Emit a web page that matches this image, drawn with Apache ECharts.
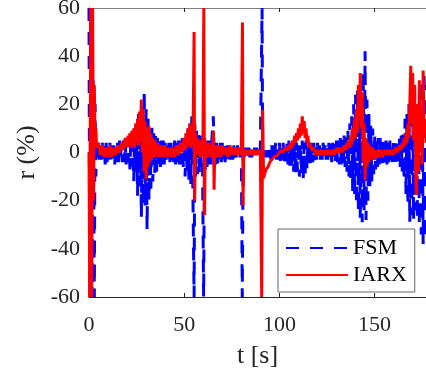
<!DOCTYPE html>
<html>
<head>
<meta charset="utf-8">
<script src="https://cdn.jsdelivr.net/npm/echarts@6/dist/echarts.min.js"></script>
<style>
html,body{margin:0;padding:0;background:#fff;}
#chart{width:426px;height:374px;}
</style>
</head>
<body>
<div id="chart"></div>
<script>
// FSM series: [t (s), r (%)]
var fsmData = [
[0,60],[0.4,-60],[1,60],[1.6,-60],[2.2,30],[2.8,-60],[3.2,20],[3.6,-10],
[4,6],[4.5,-4],[5,5],[5.5,-5],[6,4],[6.5,-3],[7,4],[7.5,-4],[8,3],[8.5,-5],
[9,4],[9.5,-4],[10,3],[10.5,-3],[11,4],[11.5,-4],[12,5],[12.5,-3],[13,3],[13.5,-5],
[14,3],[14.5,-4],[15,4],[15.5,-4],[16,5],[16.5,-3],[17,4],[17.5,-4],[18,5],[18.5,-4],
[19,5],[19.5,-5],[20,6],[20.5,-4],[21,6],[21.5,-7],[22,7],[22.5,-6],[23,5],[23.5,-12],
[24,10],[24.5,-8],[25,12],[25.5,-18],[26,16],[26.5,-14],[27,12],[27.5,-27],[28,20],[28.5,-22],
[29,26],[29.5,-22],[30,18],[30.5,-32],[31,14],[31.5,-20],[32,10],[32.5,-15],[33,12],[33.5,-12],
[34,8],[34.5,-9],[35,7],[35.5,-8],[36,6],[36.5,-6],[37,6],[37.5,-6],[38,5],[38.5,-5],
[39,5],[39.5,-5],[40,4],[40.5,-4],[41,5],[41.5,-4],[42,4],[42.5,-4],[43,4],[43.5,-4],
[44,4],[44.5,-4],[45,5],[45.5,-5],[46,4],[46.5,-4],[47,5],[47.5,-5],[48,5],[48.5,-5],
[49,6],[49.5,-6],[50,6],[50.5,-10],[51,8],[51.5,-8],[52,10],[52.5,-12],[53,12],[53.5,-14],
[54,15],[54.5,-12],[55.2,-60],[55.6,12],[56,-10],[56.5,9],[57,-9],[57.5,8],[58,-9],[58.5,7],
[59,-6],[59.5,7],[60.2,-60],[60.7,6],[61,-7],[61.5,6],[62,-6],[62.5,5],[63,-5],[63.5,5],
[64,-5],[64.5,5],[65.3,15],[65.8,-6],[66,4],[66.5,-5],[67,4],[67.5,-5],[68,4],[68.5,-4],
[69,4],[69.5,-4],[70,4],[70.5,-4],[71,3],[71.5,-4],[72,3],[72.5,-3],[73,3],[73.5,-4],
[74,3],[74.5,-3],[75,3],[75.5,-3],[76,3],[76.5,-3],[77,2],[77.5,-3],[78,3],[78.5,-2],
[79,2],[79.5,-3],[80,2],[80.5,-60],[81,2],[81.5,-2],[82,2],[82.5,-2],[83,2],[83.5,-2],
[84,2],[84.5,-2],[85,2],[85.5,-2],[86,2],[86.5,-1],[87,2],[87.5,-2],[88,2],[88.5,-1],
[89,2],[89.5,-1],[90,2],[90.9,60],[91.2,1],[91.5,-2],[92,3],[92.5,-2],[93,3],[93.5,-2],
[94,3],[94.5,-2],[95,3],[95.5,-3],[96,3],[96.5,-3],[97,3],[97.5,-3],[98,4],[98.5,-3],
[99,3],[99.5,-3],[100,4],[100.5,-4],[101,4],[101.5,-3],[102,4],[102.5,-4],[103,4],[103.5,-5],
[104,4],[104.5,-5],[105,5],[105.5,-6],[106,4],[106.5,-7],[107,5],[107.5,-8],[108,5],[108.5,-9],
[109,4],[109.5,-8],[110,5],[110.5,-10],[111,4],[111.5,-9],[112,5],[112.5,-11],[113,4],[113.5,-10],
[114,5],[114.5,-7],[115,4],[115.5,-6],[116,4],[116.5,-5],[117,4],[117.5,-4],[118,4],[118.5,-4],
[119,4],[119.5,-3],[120,4],[120.5,-3],[121,3],[121.5,-3],[122,4],[122.5,-3],[123,4],[123.5,-3],
[124,3],[124.5,-3],[125,4],[125.5,-3],[126,4],[126.5,-3],[127,4],[127.5,-4],[128,4],[128.5,-3],
[129,5],[129.5,-4],[130,5],[130.5,-4],[131,5],[131.5,-5],[132,6],[132.5,-5],[133,6],[133.5,-6],
[134,7],[134.5,-6],[135,8],[135.5,-8],[136,9],[136.5,-10],[137,12],[137.5,-12],[138,15],[138.5,-16],
[139,20],[139.5,-18],[140,24],[140.5,-22],[141,26],[141.5,-25],[142,28],[142.5,-28],[143,30],[143.5,-29],
[144,34],[144.5,-24],[145,42],[145.5,-28],[146,22],[146.5,-20],[147,16],[147.5,-14],[148,12],[148.5,-12],
[149,10],[149.5,-9],[150,8],[150.5,-7],[151,7],[151.5,-6],[152,6],[152.5,-5],[153,6],[153.5,-5],
[154,5],[154.5,-5],[155,5],[155.5,-4],[156,5],[156.5,-5],[157,4],[157.5,-4],[158,5],[158.5,-4],
[159,4],[159.5,-5],[160,5],[160.5,-5],[161,5],[161.5,-5],[162,6],[162.5,-5],[163,6],[163.5,-6],
[164,7],[164.5,-8],[165,9],[165.5,-12],[166,14],[166.5,-18],[167,16],[167.5,-22],[168,20],[168.5,-29],
[169,24],[169.5,-26],[170,26],[170.5,-28],[171,30],[171.5,-24],[172,22],[172.5,-28],[173,20],[173.5,-30],
[174,26],[174.5,-34],[175,30],[175.5,-38],[176,34],[176.5,-36],[177,28]
];

// IARX series: [t (s), r (%)]
var iarxData = [
[0,0],[0.4,-60],[0.9,60],[1.4,-60],[1.9,60],[2.4,-20],[2.8,28],[3.2,5],[3.6,10],[4,2],
[5,4],[6,-1],[7,3],[8,-2],[9,2],[10,-2],[11,3],[12,-2],[13,2],[14,-1],[15,3],[16,0],[17,4],[18,1],[19,6],
[20,2],[20.5,7],[21,3],[21.5,8],[22,2],[22.5,9],[23,3],[23.5,10],[24,2],[24.5,12],
[25,4],[25.5,14],[26,3],[26.5,17],[27,5],[27.5,22],[28,0],[28.5,18],[29,-8],[29.5,13],
[30,-11],[30.5,10],[31,-6],[31.5,11],[32,-4],[32.5,8],[33,-3],[33.5,6],[34,-2],[34.5,5],
[35,-2],[36,4],[37,-2],[38,3],[39,-2],[40,3],[41,-2],[42,2],[43,-2],[44,2],[45,-2],[46,3],[47,-1],[48,4],[49,0],
[50,6],[50.5,1],[51,8],[51.5,2],[52,10],[52.5,3],[53,12],[53.5,2],[54,11],[54.6,3],
[55.2,50],[55.5,-20],[55.9,8],[56.5,2],[57,6],[57.5,-1],[58,5],[58.5,-2],[59,5],[59.8,-1],
[60.3,60],[60.7,-26],[61.1,5],[62,-2],[63,4],[64,-2],[65,4],[65.4,9],[65.7,-15.5],[66.1,3],
[67,-2],[68,3],[69,-2],[70,3],[71,-1],[72,2],[73,-2],[74,3],[75,-1],[76,2],[77,-1],[78,2],[79,-1],[80,1],
[80.6,54],[80.9,-22],[81.3,1],[82,-1],[83,1],[84,-1],[85,1],[86,-1],[87,1],[88,-1],[89,1],[90,0],
[90.7,-60],[91.2,17.6],[91.7,-10.6],[92.2,-9],[93,-7],[94,-6],[95,-4],[96,-4],[97,-2],[98,-2],[99,-1],[100,0],
[101,1],[102,0],[103,2],[104,1],[105,3],[105.5,1],[106,4],[106.5,2],[107,5],[107.5,3],[108,7],[108.5,4],
[109,8],[109.5,5],[110,10],[110.5,6],[111,12],[111.5,7],[112,15],[112.5,8],[113,13],[113.5,6],[114,10],[114.5,4],
[115,7],[115.5,2],[116,4],[117,1],[118,2],[119,-1],[120,1],[121,-1],[122,1],[123,-1],[124,1],[125,-1],
[126,1],[127,-1],[128,1],[129,-1],[130,2],[131,0],[132,2],[133,0],[134,3],[135,1],
[135.5,4],[136,2],[136.5,5],[137,2],[137.5,7],[138,3],[138.5,10],[139,5],[139.5,14],[140,6],
[140.5,18],[141,8],[141.5,28],[142,15],[142.5,33],[143,10],[143.5,25],[144,-4],[144.5,12],[145,-11.5],
[145.5,6],[146,-6],[146.5,4],[147,-4],[147.5,3],[148,-3],[149,2],[150,-3],[151,1],[152,-2],[153,1],[154,-2],
[155,1],[156,-1],[157,1],[158,-1],[159,1],[160,-1],[161,2],[162,0],[163,3],[164,1],[164.5,4],[165,2],
[165.5,6],[166,3],[166.5,8],[167,4],[167.5,12],[168,6],[168.5,20],[169,36],[169.5,12],[170,33],
[170.5,5],[171,28],[171.5,-8],[172,-17.6],[172.5,20],[173,-8],[173.5,30],[174,0],[174.5,14],[175,-5],
[175.5,34],[176,8],[176.5,14],[177,4]
];

var seriesNames = ['FSM', 'IARX'];
var xTicks = [0, 50, 100, 150];
var yTicks = [-60, -40, -20, 0, 20, 40, 60];

var serif = 'Liberation Serif';
var chart = echarts.init(document.getElementById('chart'), null, {renderer: 'canvas'});
chart.setOption({
  animation: false,
  backgroundColor: '#ffffff',
  grid: {left: 89, right: 0, top: 8, bottom: 77, containLabel: false, outerBoundsMode: 'none'},
  legend: {
    orient: 'vertical',
    left: 278, top: 229,
    backgroundColor: '#ffffff',
    borderColor: '#666666', borderWidth: 1,
    padding: [8, 8, 6, 7],
    itemWidth: 62, itemHeight: 14, itemGap: 5,
    itemStyle: {opacity: 0},
    textStyle: {fontFamily: serif, fontSize: 22, color: '#000', lineHeight: 22},
    data: seriesNames
  },
  xAxis: [{
    type: 'value', min: 0, max: 177, interval: 50,
    name: 't [s]', nameLocation: 'middle', nameGap: 46,
    nameTextStyle: {fontFamily: serif, fontSize: 26, color: '#262626'},
    axisLine: {show: true, onZero: false, lineStyle: {color: '#262626', width: 1}},
    axisTick: {show: true, inside: true, length: 4, lineStyle: {color: '#262626'}},
    axisLabel: {fontFamily: serif, fontSize: 22, color: '#262626', margin: 17,
      formatter: function (v) { return xTicks.indexOf(v) >= 0 ? String(v) : ''; }},
    splitLine: {show: false}
  }, {
    type: 'value', min: 0, max: 177, interval: 50, position: 'top',
    axisLine: {show: true, onZero: false, lineStyle: {color: '#808080', width: 1}},
    axisTick: {show: true, inside: true, length: 4, lineStyle: {color: '#262626'}},
    axisLabel: {show: false},
    splitLine: {show: false}
  }],
  yAxis: [{
    type: 'value', min: -60, max: 60, interval: 20,
    name: 'r (%)', nameLocation: 'middle', nameGap: 47,
    nameTextStyle: {fontFamily: serif, fontSize: 26, color: '#262626'},
    axisLine: {show: true, onZero: false, lineStyle: {color: '#262626', width: 1}},
    axisTick: {show: true, inside: true, length: 4, lineStyle: {color: '#262626'}},
    axisLabel: {fontFamily: serif, fontSize: 22, color: '#262626', margin: 9,
      formatter: function (v) { return yTicks.indexOf(v) >= 0 ? String(v) : ''; }},
    splitLine: {show: false}
  }],
  series: [{
    name: seriesNames[0], type: 'line', xAxisIndex: 0, yAxisIndex: 0,
    data: fsmData,
    showSymbol: false, symbol: 'none', clip: true,
    lineStyle: {color: '#0000ff', width: 3, type: [13, 11]},
    itemStyle: {color: '#0000ff'}
  }, {
    name: seriesNames[1], type: 'line', xAxisIndex: 0, yAxisIndex: 0,
    data: iarxData,
    showSymbol: false, symbol: 'none', clip: true,
    lineStyle: {color: '#ff0000', width: 3},
    itemStyle: {color: '#ff0000'}
  }]
});
</script>
</body>
</html>
